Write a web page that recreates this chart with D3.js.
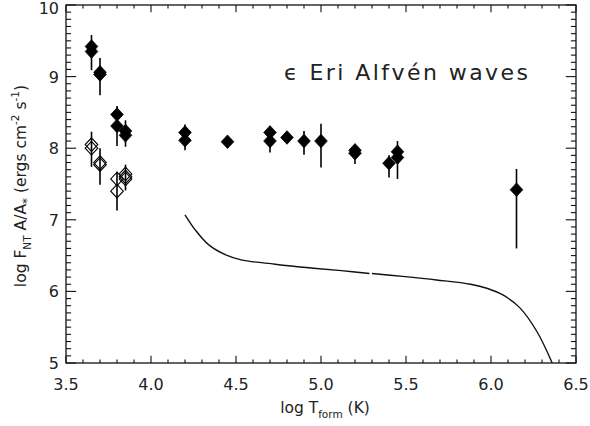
<!DOCTYPE html>
<html>
<head>
<meta charset="utf-8">
<script src="https://cdn.jsdelivr.net/npm/d3@7"></script>
<style>
  html, body { margin: 0; padding: 0; background: #fff; }
  svg { display: block; }
  text { font-family: "DejaVu Sans", sans-serif; fill: #222; }
</style>
</head>
<body>
<svg id="chart" width="590" height="426"></svg>
<script>
// Filled diamonds: log T_form and log F_NT A/A*
const filledT = [3.65, 3.65, 3.70, 3.70, 3.80, 3.80, 3.85, 3.85, 4.20, 4.20, 4.45,
                 4.70, 4.70, 4.80, 4.90, 5.00, 5.20, 5.20, 5.40, 5.45, 5.45, 6.15];
const filledF = [9.42, 9.35, 9.06, 9.03, 8.47, 8.31, 8.24, 8.18, 8.22, 8.11, 8.09,
                 8.22, 8.10, 8.15, 8.10, 8.10, 7.97, 7.93, 7.79, 7.95, 7.87, 7.42];
// Error bars for filled points
const filledBarT  = [3.65, 3.70, 3.80, 3.85, 4.20, 4.70, 4.90, 5.00, 5.20, 5.40, 5.45, 6.15];
const filledBarLo = [9.09, 8.74, 8.03, 8.02, 7.97, 7.94, 7.91, 7.73, 7.78, 7.59, 7.57, 6.60];
const filledBarHi = [9.58, 9.26, 8.59, 8.39, 8.33, 8.31, 8.24, 8.34, 8.04, 7.90, 8.10, 7.71];

// Open diamonds
const openT = [3.65, 3.65, 3.70, 3.70, 3.80, 3.80, 3.85, 3.85, 3.85];
const openF = [8.05, 8.00, 7.80, 7.77, 7.57, 7.40, 7.64, 7.60, 7.57];
const openBarT  = [3.65, 3.70, 3.80, 3.85];
const openBarLo = [7.74, 7.49, 7.13, 7.41];
const openBarHi = [8.23, 8.00, 7.67, 7.77];

// Model curve, drawn in two pieces
const curve1T = [4.20, 4.26, 4.34, 4.44, 4.53, 4.73, 4.93, 5.12, 5.285];
const curve1F = [7.07, 6.86, 6.65, 6.51, 6.44, 6.38, 6.33, 6.29, 6.25];
const curve2T = [5.30, 5.48, 5.68, 5.88, 5.98, 6.07, 6.17, 6.27, 6.36];
const curve2F = [6.25, 6.21, 6.16, 6.10, 6.04, 5.95, 5.77, 5.44, 5.00];

// Axis ticks
const xTicks = [3.5, 4.0, 4.5, 5.0, 5.5, 6.0, 6.5];
const xTickLabels = ["3.5", "4.0", "4.5", "5.0", "5.5", "6.0", "6.5"];
const yTicks = [5, 6, 7, 8, 9, 10];
const yTickLabels = ["5", "6", "7", "8", "9", "10"];

const svg = d3.select("#chart");
const L = 66, R = 576, T = 5, B = 363;

const x = d3.scaleLinear().domain([3.5, 6.5]).range([L, R]);
const y = d3.scaleLinear().domain([5, 10]).range([B, T]);

const xMinor = d3.range(35, 66).map(d => d / 10);
const yMinor = d3.range(50, 101).map(d => d / 10);

const xMajLen = 7.2, xMinLen = 3.6, yMajLen = 10.2, yMinLen = 5.1;
const isMajorX = v => xTicks.some(t => Math.abs(t - v) < 1e-6);
const isMajorY = v => yTicks.some(t => Math.abs(t - v) < 1e-6);

const axes = svg.append("g").attr("stroke", "#111").attr("stroke-width", 1.1);

// Ticks on all four sides
xMinor.forEach(v => {
  const len = isMajorX(v) ? xMajLen : xMinLen;
  axes.append("line").attr("x1", x(v)).attr("x2", x(v)).attr("y1", B).attr("y2", B - len);
  axes.append("line").attr("x1", x(v)).attr("x2", x(v)).attr("y1", T).attr("y2", T + len);
});
yMinor.forEach(v => {
  const len = isMajorY(v) ? yMajLen : yMinLen;
  axes.append("line").attr("x1", L).attr("x2", L + len).attr("y1", y(v)).attr("y2", y(v));
  axes.append("line").attr("x1", R).attr("x2", R - len).attr("y1", y(v)).attr("y2", y(v));
});
axes.append("rect").attr("x", L).attr("y", T).attr("width", R - L).attr("height", B - T)
  .attr("fill", "none").attr("stroke-width", 1.3);

// Tick labels
svg.append("g").selectAll("text").data(xTicks).join("text")
  .attr("x", d => x(d)).attr("y", 390)
  .attr("text-anchor", "middle").attr("font-size", 16)
  .text((d, i) => xTickLabels[i]);
svg.append("g").selectAll("text").data(yTicks).join("text")
  .attr("x", 59).attr("y", d => Math.max(y(d) + 6, 14))
  .attr("text-anchor", "end").attr("font-size", 16)
  .text((d, i) => yTickLabels[i]);

// Axis titles
const xl = svg.append("text").attr("x", 325).attr("y", 413)
  .attr("text-anchor", "middle").attr("font-size", 15.5);
xl.append("tspan").text("log T");
xl.append("tspan").attr("font-size", 10.5).attr("dy", 5).text("form");
xl.append("tspan").attr("dy", -5).text(" (K)");

const yl = svg.append("text")
  .attr("transform", "translate(26,186) rotate(-90)")
  .attr("text-anchor", "middle").attr("font-size", 15.5);
yl.append("tspan").text("log F");
yl.append("tspan").attr("font-size", 10.5).attr("dy", 5).text("NT");
yl.append("tspan").attr("dy", -5).text(" A/A");
yl.append("tspan").attr("font-size", 12).attr("dy", 5).text("*");
yl.append("tspan").attr("dy", -5).text(" (ergs cm");
yl.append("tspan").attr("font-size", 10.5).attr("dy", -7).text("-2");
yl.append("tspan").attr("dy", 7).text(" s");
yl.append("tspan").attr("font-size", 10.5).attr("dy", -7).text("-1");
yl.append("tspan").attr("dy", 7).text(")");

// Annotation
svg.append("text").attr("x", 284).attr("y", 80)
  .attr("font-size", 22).attr("textLength", 244).attr("lengthAdjust", "spacing")
  .text("ϵ Eri Alfvén waves");

// Plot content
const plot = svg.append("g");
svg.append("clipPath").attr("id", "clip").append("rect")
  .attr("x", L).attr("y", T).attr("width", R - L).attr("height", B - T);

const line = d3.line().x(d => x(d[0])).y(d => y(d[1])).curve(d3.curveCatmullRom.alpha(0.5));
[[curve1T, curve1F], [curve2T, curve2F]].forEach(([ts, fs]) => {
  plot.append("path")
    .attr("clip-path", "url(#clip)")
    .attr("d", line(ts.map((t, i) => [t, fs[i]])))
    .attr("fill", "none").attr("stroke", "#111").attr("stroke-width", 1.4);
});

// Error bars
const bars = (ts, lo, hi) => plot.append("g").selectAll("line").data(ts).join("line")
  .attr("x1", d => x(d)).attr("x2", d => x(d))
  .attr("y1", (d, i) => y(lo[i])).attr("y2", (d, i) => y(hi[i]))
  .attr("stroke", "#000").attr("stroke-width", 1.6);
bars(filledBarT, filledBarLo, filledBarHi);
bars(openBarT, openBarLo, openBarHi);

const dh = 6.8, dw = 6.3;
const diamond = (cx, cy) => `M${cx},${cy - dh}L${cx + dw},${cy}L${cx},${cy + dh}L${cx - dw},${cy}Z`;

plot.append("g").selectAll("path").data(openT).join("path")
  .attr("d", (d, i) => diamond(x(d), y(openF[i])))
  .attr("fill", "#fff").attr("fill-opacity", 0).attr("stroke", "#000").attr("stroke-width", 1.1);

plot.append("g").selectAll("path").data(filledT).join("path")
  .attr("d", (d, i) => diamond(x(d), y(filledF[i])))
  .attr("fill", "#000").attr("stroke", "#000").attr("stroke-width", 0.8);
</script>
</body>
</html>
